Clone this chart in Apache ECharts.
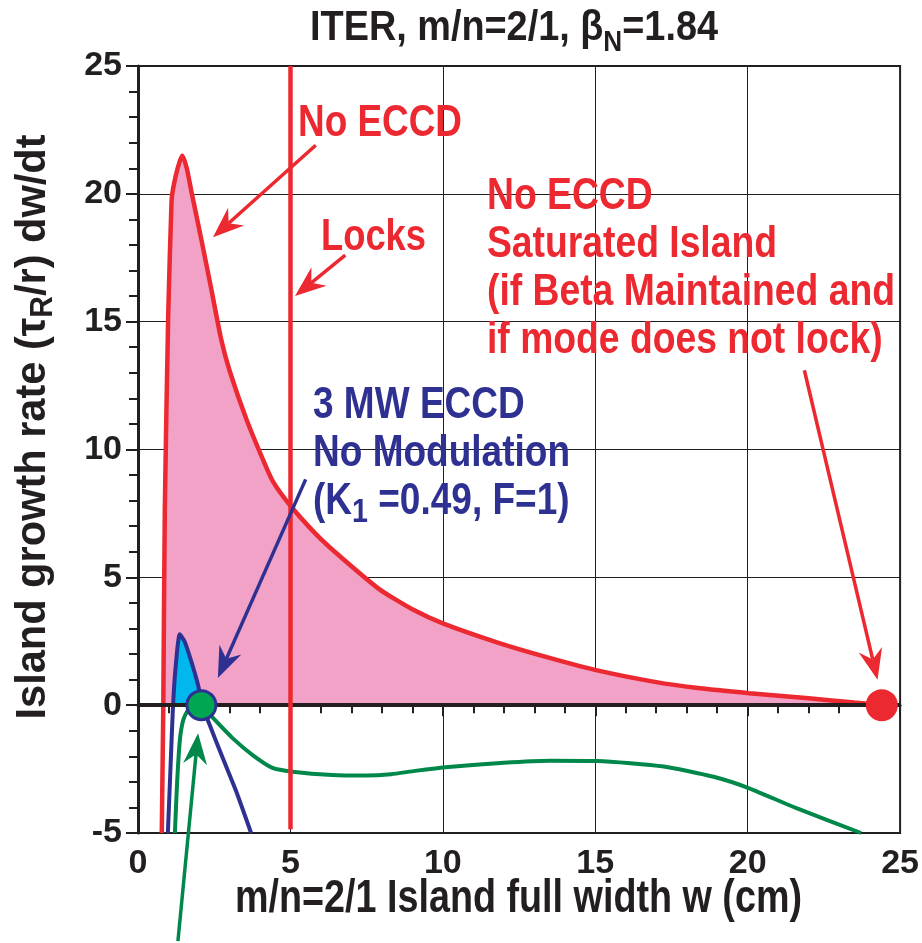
<!DOCTYPE html>
<html>
<head>
<meta charset="utf-8">
<script src="https://cdn.jsdelivr.net/npm/echarts@6/dist/echarts.min.js"></script>
<style>
  html, body { margin: 0; padding: 0; background: #fff; }
  #chart { width: 922px; height: 943px; }
</style>
</head>
<body>
<div id="chart"></div>
<script>
// island full width w (cm) vs growth rate (tau_R/r) dw/dt
var noEccdW    = [0.78, 0.81, 0.83, 0.88, 0.99, 1.1, 1.15, 1.3, 1.45, 1.6, 1.75, 2.08, 2.4, 2.73, 3.0, 3.55, 4.1, 4.42, 4.96, 5.83, 6.5, 7.9, 9.0, 10.0, 11.8, 13.5, 15.1, 17.0, 18.3, 20.05, 22.0, 23.5, 24.4];
var noEccdRate = [-5, -2, 0, 7.7, 15.2, 19.7, 20.2, 21.0, 21.5, 21.0, 20.1, 18.2, 16.3, 14.3, 13.1, 11.2, 9.6, 8.76, 7.86, 6.7, 5.95, 4.55, 3.75, 3.2, 2.45, 1.85, 1.35, 0.9, 0.68, 0.47, 0.27, 0.1, 0.0];

var eccdW    = [0.98, 1.07, 1.15, 1.24, 1.37, 1.53, 1.75, 1.97, 2.11, 2.35, 2.78, 3.22, 3.71];
var eccdRate = [-5, -2.33, 0, 1.57, 2.77, 2.49, 1.7, 0.79, 0, -0.77, -2.07, -3.37, -5];

var otherW    = [1.21, 1.28, 1.37, 1.48, 1.64, 1.86, 2.08, 2.46, 3.11, 3.76, 4.41, 5.07, 6.37, 7.46, 8.3, 9.09, 10.18, 12.0, 13.5, 15.07, 17.25, 18.88, 20.05, 21.6, 23.72];
var otherRate = [-5, -3.1, -1.4, -0.6, -0.2, -0.02, 0, -0.5, -1.3, -1.95, -2.45, -2.6, -2.73, -2.75, -2.7, -2.57, -2.42, -2.25, -2.17, -2.18, -2.4, -2.8, -3.25, -4.03, -5];

var saturatedPoint = [24.4, 0];
var marginalPoint = [2.08, 0];
var lockWidth = 5;

var xTicks = [0, 5, 10, 15, 20, 25];
var yTicks = [-5, 0, 5, 10, 15, 20, 25];

// arrows [from, to] in data units
var arrowNoEccd = [[5.83, 21.9], [2.46, 18.3]];
var arrowLocks = [[6.8, 17.6], [5.15, 16.0]];
var arrowEccd = [[5.5, 8.83], [2.62, 1.06]];
var arrowSat = [[21.86, 13.1], [24.26, 0.99]];
var arrowMarginal = [[1.31, -9.23], [1.97, -1.1]];

var RED = '#ec2830';
var PINK = '#f2a2c6';
var CYAN = '#00b8ee';
var NAVY = '#2e3192';
var GREEN = '#00874a';
var GREEN_DOT = '#00a651';
var INK = '#231f20';
var FONT = "'Liberation Sans', Arial, sans-serif";

function pairs(xs, ys) {
  return xs.map(function (x, i) { return [x, ys[i]] })
}
function positive(xs, ys) {
  return pairs(xs, ys).filter(function (p) { return p[1] >= 0 })
}

var chart = echarts.init(document.getElementById('chart'))

chart.setOption({
  animation: false,
  backgroundColor: '#fff',
  grid: {
    left: 138, right: 18, top: 66, bottom: 110,
    show: true, borderColor: INK, borderWidth: 2
  },
  xAxis: {
    type: 'value',
    min: 0, max: 25, interval: 5,
    axisLine: { lineStyle: { color: INK, width: 3 } },
    axisTick: { length: 11, lineStyle: { color: INK, width: 2 } },
    minorTick: { show: true, splitNumber: 5, length: 8, lineStyle: { color: INK, width: 2 } },
    axisLabel: { margin: 14, fontFamily: FONT, fontWeight: 'bold', fontSize: 34, color: INK,
      formatter: function (v) { return xTicks.indexOf(v) >= 0 ? String(v) : '' } },
    splitLine: { show: true, lineStyle: { color: INK, width: 1 } }
  },
  yAxis: {
    type: 'value',
    min: -5, max: 25, interval: 5,
    axisLine: { lineStyle: { color: INK, width: 3 } },
    axisTick: { length: 12, lineStyle: { color: INK, width: 2 } },
    minorTick: { show: true, splitNumber: 5, length: 9, lineStyle: { color: INK, width: 2 } },
    axisLabel: { margin: 16, fontFamily: FONT, fontWeight: 'bold', fontSize: 34, color: INK,
      formatter: function (v) { return yTicks.indexOf(v) >= 0 ? String(v) : '' } },
    splitLine: { show: true, lineStyle: { color: INK, width: 1 } }
  },
  series: [
    {
      name: 'pink', type: 'line', z: 1, smooth: 0.2, showSymbol: false, silent: true,
      data: positive(noEccdW, noEccdRate),
      lineStyle: { width: 0 },
      areaStyle: { color: PINK, opacity: 1 }
    },
    {
      name: 'cyan', type: 'line', z: 2, smooth: 0.2, showSymbol: false, silent: true,
      data: positive(eccdW, eccdRate),
      lineStyle: { width: 0 },
      areaStyle: { color: CYAN, opacity: 1 }
    },
    {
      name: 'guides', type: 'line', z: 3, data: [], silent: true,
      markLine: {
        silent: true, symbol: ['none', 'none'], label: { show: false },
        data: [
          [{ coord: [0, 0], lineStyle: { color: INK, width: 4, type: 'solid' } }, { coord: [25, 0] }],
          [{ coord: [lockWidth, 25], lineStyle: { color: RED, width: 4.5, type: 'solid' } }, { coord: [lockWidth, -4.85] }]
        ]
      }
    },
    {
      name: 'No ECCD', type: 'line', z: 4, smooth: 0.2, showSymbol: false,
      data: pairs(noEccdW, noEccdRate),
      lineStyle: { color: RED, width: 4.5 }
    },
    {
      name: '3 MW ECCD', type: 'line', z: 4, smooth: 0.2, showSymbol: false,
      data: pairs(eccdW, eccdRate),
      lineStyle: { color: NAVY, width: 4 }
    },
    {
      name: 'other', type: 'line', z: 4, smooth: 0.2, showSymbol: false,
      data: pairs(otherW, otherRate),
      lineStyle: { color: GREEN, width: 4 }
    },
    {
      name: 'saturated', type: 'scatter', z: 6, symbolSize: 32,
      data: [saturatedPoint],
      itemStyle: { color: RED, opacity: 1 }
    },
    {
      name: 'marginal', type: 'scatter', z: 6, symbolSize: 29,
      data: [marginalPoint],
      itemStyle: { color: GREEN_DOT, borderColor: NAVY, borderWidth: 3, opacity: 1 }
    }
  ]
})

function arrow(seg, color) {
  var p0 = chart.convertToPixel({ gridIndex: 0 }, seg[0])
  var p1 = chart.convertToPixel({ gridIndex: 0 }, seg[1])
  var dx = p1[0] - p0[0], dy = p1[1] - p0[1]
  var len = Math.sqrt(dx * dx + dy * dy)
  var ux = dx / len, uy = dy / len
  var headLen = 31, half = 12, notch = 21
  var bx = p1[0] - ux * headLen, by = p1[1] - uy * headLen
  var nx = p1[0] - ux * notch, ny = p1[1] - uy * notch
  return [
    { type: 'line', z: 10, shape: { x1: p0[0], y1: p0[1], x2: nx, y2: ny }, style: { stroke: color, lineWidth: 3.5 } },
    { type: 'polygon', z: 10, shape: { points: [[p1[0], p1[1]], [bx - uy * half, by + ux * half], [nx, ny], [bx + uy * half, by - ux * half]] }, style: { fill: color } }
  ]
}

// the figure uses a condensed bold face; squeeze Liberation Sans Bold to the widths measured on it
var ctx = document.createElement('canvas').getContext('2d')
function textWidth(parts) {
  var w = 0
  parts.forEach(function (p) {
    ctx.font = 'bold ' + p[1] + 'px ' + FONT
    w += ctx.measureText(p[0]).width
  })
  return w
}

// parts: [[text, size]] of the widest line; target: its width in the figure
function label(opt) {
  var sx = opt.target / textWidth(opt.parts)
  var rich = {}
  if (opt.sub) {
    rich.s = {
      fontFamily: FONT, fontWeight: 'bold', fontSize: opt.sub.size, fill: opt.color,
      lineHeight: opt.lineHeight - opt.sub.shift * 2, padding: [opt.sub.shift * 2, 0, 0, 0]
    }
  }
  return {
    type: 'text', z: 11, x: opt.x, y: opt.y, scaleX: sx, rotation: opt.rotation || 0,
    style: {
      text: opt.text, fill: opt.color, fontFamily: FONT, fontWeight: 'bold', fontSize: opt.size,
      lineHeight: opt.lineHeight, align: opt.align || 'left', verticalAlign: opt.vAlign || 'top', rich: rich
    }
  }
}

var graphics = []
  .concat(arrow(arrowNoEccd, RED))
  .concat(arrow(arrowLocks, RED))
  .concat(arrow(arrowEccd, NAVY))
  .concat(arrow(arrowSat, RED))
  .concat(arrow(arrowMarginal, GREEN))

graphics.push(label({
  x: 310, y: 28, vAlign: 'middle', text: 'ITER, m/n=2/1, β{s|N}=1.84', color: INK, size: 42, lineHeight: 48,
  sub: { size: 29, shift: 15 },
  parts: [['ITER, m/n=2/1, β', 42], ['N', 29], ['=1.84', 42]], target: 408
}))
graphics.push(label({
  x: 298, y: 124, vAlign: 'middle', text: 'No ECCD', color: RED, size: 44, lineHeight: 48,
  parts: [['No ECCD', 44]], target: 164
}))
graphics.push(label({
  x: 321, y: 238, vAlign: 'middle', text: 'Locks', color: RED, size: 44, lineHeight: 48,
  parts: [['Locks', 44]], target: 105
}))
graphics.push(label({
  x: 487, y: 173, text: 'No ECCD\nSaturated Island\n(if Beta Maintained and\nif mode does not lock)', color: RED, size: 44, lineHeight: 48,
  parts: [['(if Beta Maintained and', 44]], target: 408
}))
graphics.push(label({
  x: 313, y: 382, text: '3 MW ECCD\nNo Modulation\n(K{s|1} =0.49, F=1)', color: NAVY, size: 44, lineHeight: 48,
  sub: { size: 34, shift: 11 },
  parts: [['No Modulation', 44]], target: 257
}))
graphics.push(label({
  x: 235, y: 899, vAlign: 'middle', text: 'm/n=2/1 Island full width w (cm)', color: INK, size: 46, lineHeight: 50,
  parts: [['m/n=2/1 Island full width w (cm)', 46]], target: 567
}))
graphics.push(label({
  x: 33, y: 427, rotation: Math.PI / 2, align: 'center', vAlign: 'middle',
  text: 'Island growth rate (τ{s|R}/r) dw/dt', color: INK, size: 43, lineHeight: 48,
  sub: { size: 31, shift: 10 },
  parts: [['Island growth rate (τ', 43], ['R', 31], ['/r) dw/dt', 43]], target: 585
}))

chart.setOption({ graphic: graphics })
</script>
</body>
</html>
